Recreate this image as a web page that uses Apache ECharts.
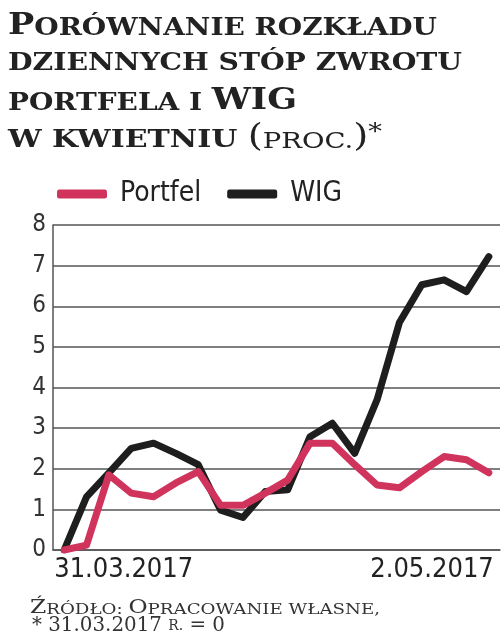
<!DOCTYPE html>
<html>
<head>
<meta charset="utf-8">
<script src="https://cdn.jsdelivr.net/npm/echarts@6/dist/echarts.min.js"></script>
<style>
html,body{margin:0;padding:0;background:#fff;}
#chart{width:504px;height:640px;}
</style>
</head>
<body>
<div id="chart"></div>
<script>
// ---- data ----
const categories = ['31.03.2017','3.04.2017','4.04.2017','5.04.2017','6.04.2017','7.04.2017',
  '10.04.2017','11.04.2017','12.04.2017','13.04.2017','18.04.2017','19.04.2017','20.04.2017',
  '21.04.2017','24.04.2017','25.04.2017','26.04.2017','27.04.2017','28.04.2017','2.05.2017'];
const portfel = [0, 0.12, 1.85, 1.4, 1.31, 1.65, 1.93, 1.1, 1.1, 1.4, 1.72, 2.63, 2.63, 2.1, 1.6, 1.53, 1.93, 2.3, 2.22, 1.9];
const wig = [0, 1.31, 1.9, 2.5, 2.63, 2.38, 2.1, 0.98, 0.8, 1.44, 1.48, 2.79, 3.12, 2.38, 3.7, 5.6, 6.53, 6.65, 6.36, 7.22];
const seriesNames = ['Portfel', 'WIG'];
const yTicks = [0, 1, 2, 3, 4, 5, 6, 7, 8];

const titleLines = [
  [['B','P'],['s','ORÓWNANIE ROZKŁADU']],
  [['s','DZIENNYCH STÓP ZWROTU']],
  [['s','PORTFELA I '],['B','WIG']],
  [['s','W KWIETNIU '],['p','('],['n','PROC.'],['p',')'],['a','*']]
];
const footerLines = [
  [['B','Ź'],['s','RÓDŁO: '],['B','O'],['s','PRACOWANIE WŁASNE,']],
  [['n','* 31.03.2017 '],['r','R.'],['n',' = 0']]
];

// ---- styles ----
const RED = '#d0345d', BLACK = '#1e1e1e', GRID = '#555555';
const SANS = '"DejaVu Sans Condensed", "Liberation Sans Narrow", sans-serif';
const SERIF = '"DejaVu Serif", serif';

function tok(size, weight, va) {
  return {fontFamily: SERIF, fontWeight: weight, fontSize: size, lineHeight: size, verticalAlign: va || 'bottom', fill: '#222'};
}
const titleRich = {
  B: tok(30, 'bold'),
  s: tok(24, 'bold'),
  p: tok(31, 'normal'),
  n: tok(22, 'normal'),
  a: tok(22, 'normal', 'top')
};
const footRich = {
  B: tok(18, 'normal'),
  s: tok(14, 'normal'),
  r: tok(14, 'normal'),
  n: tok(20, 'normal')
};
footRich.r.padding = [0, 0, 3, 0];
Object.values(footRich).forEach(r => r.fill = '#333');

const mctx = document.createElement('canvas').getContext('2d');
function measure(line, rich) {
  let w = 0;
  line.forEach(([k, t]) => {
    const r = rich[k];
    mctx.font = (r.fontWeight || 'normal') + ' ' + r.fontSize + 'px ' + r.fontFamily;
    w += mctx.measureText(t).width;
  });
  return w;
}
function richText(line) { return line.map(([k, t]) => '{' + k + '|' + t + '}').join(''); }

const titleTargets = [{x: 8, w: 429, y: 41}, {x: 8, w: 454, y: 76}, {x: 8, w: 289, y: 116}, {x: 8, w: 374, y: 153}];
const footTargets = [{x: 30, w: 350, y: 617}, {x: 32, w: 193, y: 636}];

const graphics = [];
titleLines.forEach((line, i) => {
  const t = titleTargets[i];
  graphics.push({type: 'text', x: t.x, y: t.y, scaleX: t.w / measure(line, titleRich),
    style: {text: richText(line), rich: titleRich, align: 'left', verticalAlign: 'bottom'}});
});
footerLines.forEach((line, i) => {
  const t = footTargets[i];
  graphics.push({type: 'text', x: t.x, y: t.y, scaleX: t.w / measure(line, footRich),
    style: {text: richText(line), rich: footRich, align: 'left', verticalAlign: 'bottom'}});
});

const chart = echarts.init(document.getElementById('chart'), null, {renderer: 'canvas'});
chart.setOption({
  animation: false,
  backgroundColor: '#fff',
  graphic: graphics,
  legend: {
    data: seriesNames,
    left: 57, top: 180, padding: 0,
    icon: 'roundRect', itemWidth: 50, itemHeight: 9, itemGap: 26,
    textStyle: {fontFamily: SANS, fontSize: 28, color: '#222', padding: [0, 0, 0, 8]}
  },
  grid: {left: 53, right: 4, top: 225, bottom: 90, containLabel: false},
  xAxis: {
    type: 'category', data: categories, boundaryGap: true,
    axisLine: {show: true, lineStyle: {color: GRID, width: 1.5}},
    axisTick: {show: false},
    axisLabel: {
      interval: 0, margin: 6,
      fontFamily: SANS, fontSize: 27, color: '#222',
      padding: [0, -5, 0, -10],
      alignMinLabel: 'left', alignMaxLabel: 'right',
      formatter: (v, i) => (i === 0 || i === categories.length - 1) ? v : ''
    },
    splitLine: {show: false}
  },
  yAxis: {
    type: 'value', min: yTicks[0], max: yTicks[yTicks.length - 1], interval: 1,
    axisLine: {show: true, lineStyle: {color: GRID, width: 1.5}},
    axisTick: {show: false},
    axisLabel: {fontFamily: SANS, fontSize: 24, color: '#333', margin: 7},
    splitLine: {show: true, lineStyle: {color: GRID, width: 1.5}}
  },
  series: [
    {name: seriesNames[0], type: 'line', data: portfel, symbol: 'none', z: 4,
      itemStyle: {color: RED},
      lineStyle: {color: RED, width: 7, cap: 'round', join: 'round'}},
    {name: seriesNames[1], type: 'line', data: wig, symbol: 'none', z: 3,
      itemStyle: {color: BLACK},
      lineStyle: {color: BLACK, width: 7, cap: 'round', join: 'round'}}
  ]
});
</script>
</body>
</html>
